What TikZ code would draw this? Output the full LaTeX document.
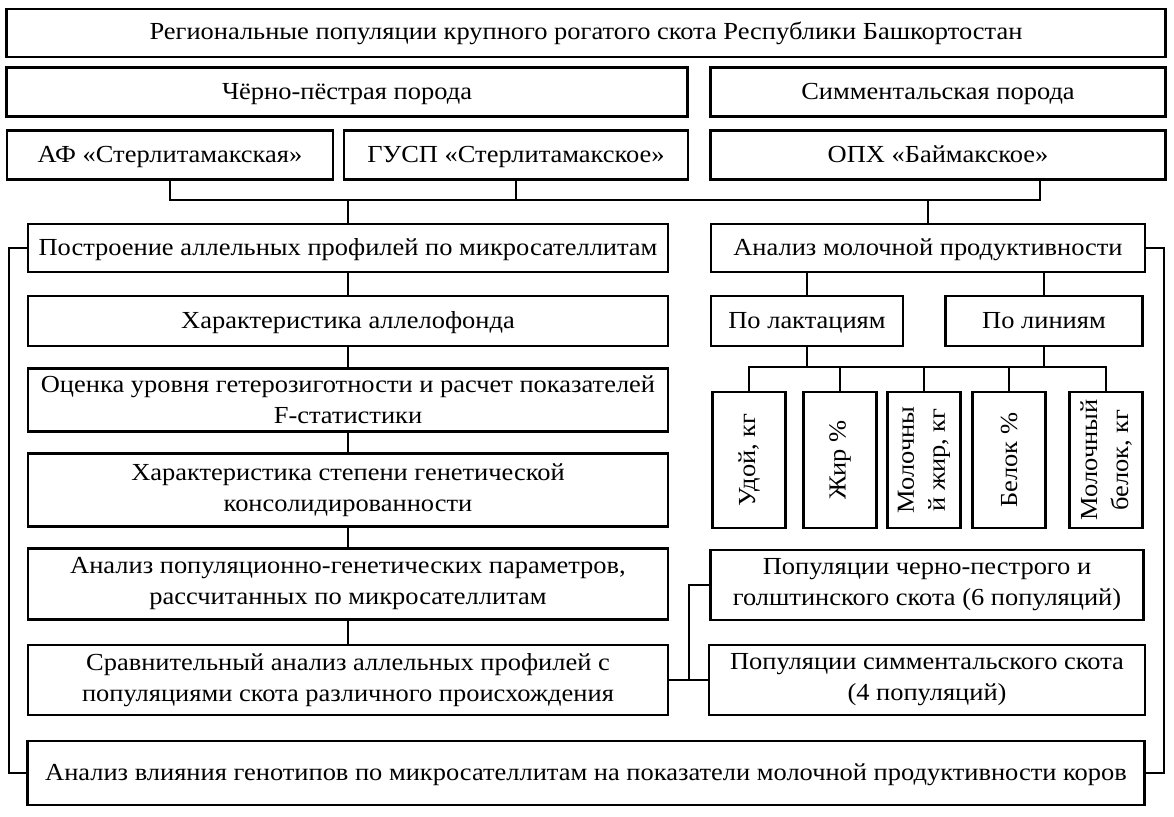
\documentclass[tikz,border=0pt]{standalone}
\usepackage{fontspec}
\setmainfont[FakeStretch=1.08]{Liberation Serif}
\usetikzlibrary{positioning,calc}

\begin{document}
\begin{tikzpicture}[x=1pt, y=-1pt,
  box/.style={draw=black, line width=2.2pt, fill=white, align=center, inner sep=2pt,
    font=\fontsize{24.5}{31}\selectfont},
  oneline/.style={box, text height=18pt, text depth=4pt},
  widebox/.style={oneline, minimum height=49pt},
  leftbox/.style={box, minimum width=640pt},
  vbox/.style={box, rotate=90, minimum width=136pt, minimum height=73pt},
  link/.style={black, line width=2pt}]
\useasboundingbox (0,0) rectangle (1174,816);
\fill[white] (0,0) rectangle (1174,816);

% top rows
\node[widebox, minimum width=1159pt, minimum height=48pt] (region) at (586,33) {Региональные популяции крупного рогатого скота Республики Башкортостан};
\node[widebox, minimum width=681pt] (blackpied) at (347,92) {Чёрно-пёстрая порода};
\node[widebox, minimum width=455pt] (simmental) at (938,92) {Симментальская порода};
\node[widebox, minimum width=326pt] (af) at (170,155) {АФ «Стерлитамакская»};
\node[widebox, minimum width=344pt] (gusp) at (516,155) {ГУСП «Стерлитамакское»};
\node[widebox, minimum width=455pt] (oph) at (938,155) {ОПХ «Баймакское»};
\coordinate (ophdrop) at (1040,180);
\coordinate (bus) at (0,200);

% left column
\node[leftbox, oneline, minimum height=48pt] (profiles) at (348,248) {Построение аллельных профилей по микросателлитам};
\node[leftbox, oneline, minimum height=50pt] (allelo) at (348,321) {Характеристика аллелофонда};
\node[leftbox, minimum height=63pt] (hetero) at (348,400) {Оценка уровня гетерозиготности и расчет показателей\\F-статистики};
\node[leftbox, minimum height=73pt] (consol) at (348,490) {Характеристика степени генетической\\консолидированности};
\node[leftbox, minimum height=71pt] (params) at (348,584) {Анализ популяционно-генетических параметров,\\рассчитанных по микросателлитам};
\node[leftbox, minimum height=70pt] (compare) at (348,680) {Сравнительный анализ аллельных профилей с\\популяциями скота различного происхождения};

% right column
\node[oneline, minimum width=434pt, minimum height=48pt] (milk) at (928,248) {Анализ молочной продуктивности};
\node[oneline, minimum width=192pt, minimum height=50pt] (lact) at (807,321) {По лактациям};
\node[oneline, minimum width=197pt, minimum height=50pt] (lines) at (1044,321) {По линиям};
\node[vbox] (yield) at (749,460) {Удой, кг};
\node[vbox] (fat) at (840,460) {Жир \%};
\node[vbox] (milkfat) at (924,460) {Молочны\\й жир, кг};
\node[vbox] (protein) at (1009,460) {Белок \%};
\node[vbox] (milkprot) at (1106,460) {Молочный\\белок, кг};
\coordinate (bus2) at (0,367);
\node[box, minimum width=433pt, minimum height=70pt] (popbw) at (927,585) {Популяции черно-пестрого и\\голштинского скота (6 популяций)};
\node[box, minimum width=436pt, minimum height=70pt] (popsim) at (927,680) {Популяции симментальского скота\\(4 популяций)};

% bottom
\node[oneline, minimum width=1117pt, minimum height=64pt] (effect) at (586,773) {Анализ влияния генотипов по микросателлитам на показатели молочной продуктивности коров};

% connectors
\draw[link] (af.south) |- (bus -| ophdrop) -- (ophdrop);
\draw[link] (gusp.south) -- (gusp.south |- bus);
\draw[link] (profiles.north) -- (profiles.north |- bus);
\draw[link] (milk.north) -- (milk.north |- bus);
\draw[link] (profiles) -- (allelo) -- (hetero) -- (consol) -- (params) -- (compare);
\draw[link] (profiles.west) -- ++(-18,0) |- (effect.west);
\draw[link] (milk.east) -- ++(18,0) |- (effect.east);
\draw[link] (lact.north) -- (lact.north |- milk.south);
\draw[link] (lines.north) -- (lines.north |- milk.south);
\draw[link] (lact.south) -- (lact.south |- bus2);
\draw[link] (lines.south) -- (lines.south |- bus2);
\draw[link] (yield.east) |- (milkprot.east |- bus2) -- (milkprot.east);
\foreach \n in {fat,milkfat,protein}
  \draw[link] (\n.east) -- (\n.east |- bus2);
\draw[link] (compare.east) -- (popsim.west);
\draw[link] (popbw.west) -- ++(-20,0) |- (compare.east);
\end{tikzpicture}
\end{document}
